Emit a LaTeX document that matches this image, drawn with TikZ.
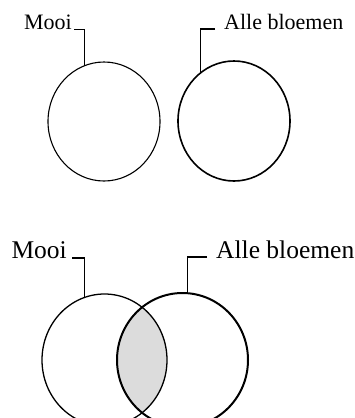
\documentclass[tikz,border=0pt]{standalone}
\usepackage{fontspec}
\setmainfont{Liberation Serif}
\usetikzlibrary{shapes.geometric}
\definecolor{lens}{HTML}{DCDCDC}
\tikzset{
  setbox/.style={draw=black, ellipse, inner sep=0pt, outer sep=0pt},
  toplabel/.style={font=\fontsize{22}{24}\selectfont, inner sep=0pt},
  botlabel/.style={font=\fontsize{25.5}{28}\selectfont, inner sep=0pt},
  leader/.style={draw=black, line width=1.2pt}
}
\begin{document}
\begin{tikzpicture}[x=1pt,y=-1pt]
\useasboundingbox (0,0) rectangle (354,418);
% top diagram
\node[setbox, line width=1.1pt, minimum width=112pt, minimum height=119pt] (c1) at (104,121.5) {};
\node[setbox, line width=1.6pt, minimum width=112pt, minimum height=120pt] (c2) at (234,121) {};
\node[toplabel, anchor=base east] (m1) at (72,29) {Mooi};
\node[toplabel, anchor=base west] (a1) at (224,29) {Alle bloemen};
\draw[leader] ([xshift=2pt,yshift=-0.5pt]m1.base east) -| (c1.109);
\draw[leader] ([xshift=-9pt]a1.base west) -| (c2.125);
% bottom diagram
\begin{scope}
  \clip (104.5,360) ellipse [x radius=62.5pt, y radius=66pt];
  \fill[lens] (182.5,360) ellipse [x radius=65.5pt, y radius=67pt];
\end{scope}
\node[setbox, line width=1.3pt, minimum width=125pt, minimum height=132pt] (c3) at (104.5,360) {};
\node[setbox, line width=2pt, minimum width=131pt, minimum height=134pt] (c4) at (182.5,360) {};
\node[botlabel, anchor=base east] (m2) at (67,258) {Mooi};
\node[botlabel, anchor=base west] (a2) at (216,258) {Alle bloemen};
\draw[leader] ([xshift=5pt]m2.base east) -| (c3.108);
\draw[leader] ([xshift=-9pt,yshift=1pt]a2.base west) -| (c4.86);
\end{tikzpicture}
\end{document}
